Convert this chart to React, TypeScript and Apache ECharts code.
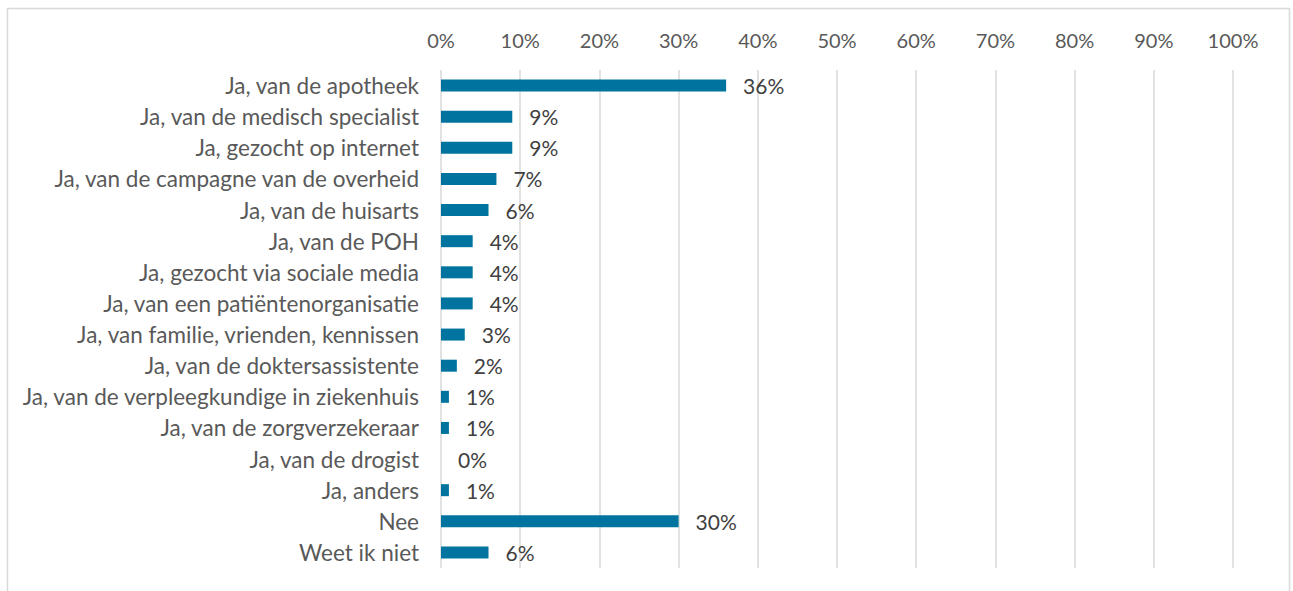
import React, { useEffect, useRef } from "react";
import * as echarts from "echarts";

const categories = [
  "Ja, van de apotheek",
  "Ja, van de medisch specialist",
  "Ja, gezocht op internet",
  "Ja, van de campagne van de overheid",
  "Ja, van de huisarts",
  "Ja, van de POH",
  "Ja, gezocht via sociale media",
  "Ja, van een patiëntenorganisatie",
  "Ja, van familie, vrienden, kennissen",
  "Ja, van de doktersassistente",
  "Ja, van de verpleegkundige in ziekenhuis",
  "Ja, van de zorgverzekeraar",
  "Ja, van de drogist",
  "Ja, anders",
  "Nee",
  "Weet ik niet",
];
const values = [36, 9, 9, 7, 6, 4, 4, 4, 3, 2, 1, 1, 0, 1, 30, 6];

const FONT = "Lato";

export default function App() {
  const ref = useRef<HTMLDivElement>(null);
  useEffect(() => {
    if (!ref.current) return;
    const chart = echarts.init(ref.current, undefined, { renderer: "svg" });
    chart.setOption({
      animation: false,
      backgroundColor: "#ffffff",
      textStyle: { fontFamily: FONT },
      graphic: [
        {
          type: "rect",
          shape: { x: 7.5, y: 8.5, width: 1282, height: 620 },
          style: { fill: "none", stroke: "#d9d9d9", lineWidth: 1.5 },
          silent: true,
        },
      ],
      grid: { left: 441, right: 60, top: 70, bottom: 23 },
      xAxis: {
        type: "value",
        position: "top",
        min: 0,
        max: 100,
        interval: 10,
        axisLine: { show: false },
        axisTick: { show: false },
        axisLabel: {
          formatter: "{value}%",
          color: "#595959",
          fontSize: 20,
          fontFamily: FONT,
          margin: 20,
        },
        splitLine: { show: true, lineStyle: { color: "#d9d9d9", width: 1.5 } },
      },
      yAxis: {
        type: "category",
        data: categories,
        inverse: true,
        axisLine: { show: false },
        axisTick: { show: false },
        axisLabel: {
          color: "#595959",
          fontSize: 22.5,
          fontFamily: FONT,
          margin: 22,
        },
      },
      series: [
        {
          type: "bar",
          data: values,
          barWidth: 12,
          itemStyle: { color: "#00749e" },
          label: {
            show: true,
            position: "right",
            distance: 17,
            formatter: "{c}%",
            color: "#404040",
            fontSize: 21,
            fontFamily: FONT,
          },
        },
      ],
    });
    return () => chart.dispose();
  }, []);
  return (
    <div
      ref={ref}
      style={{ position: "fixed", left: 0, top: 0, width: 1293, height: 591 }}
    />
  );
}
